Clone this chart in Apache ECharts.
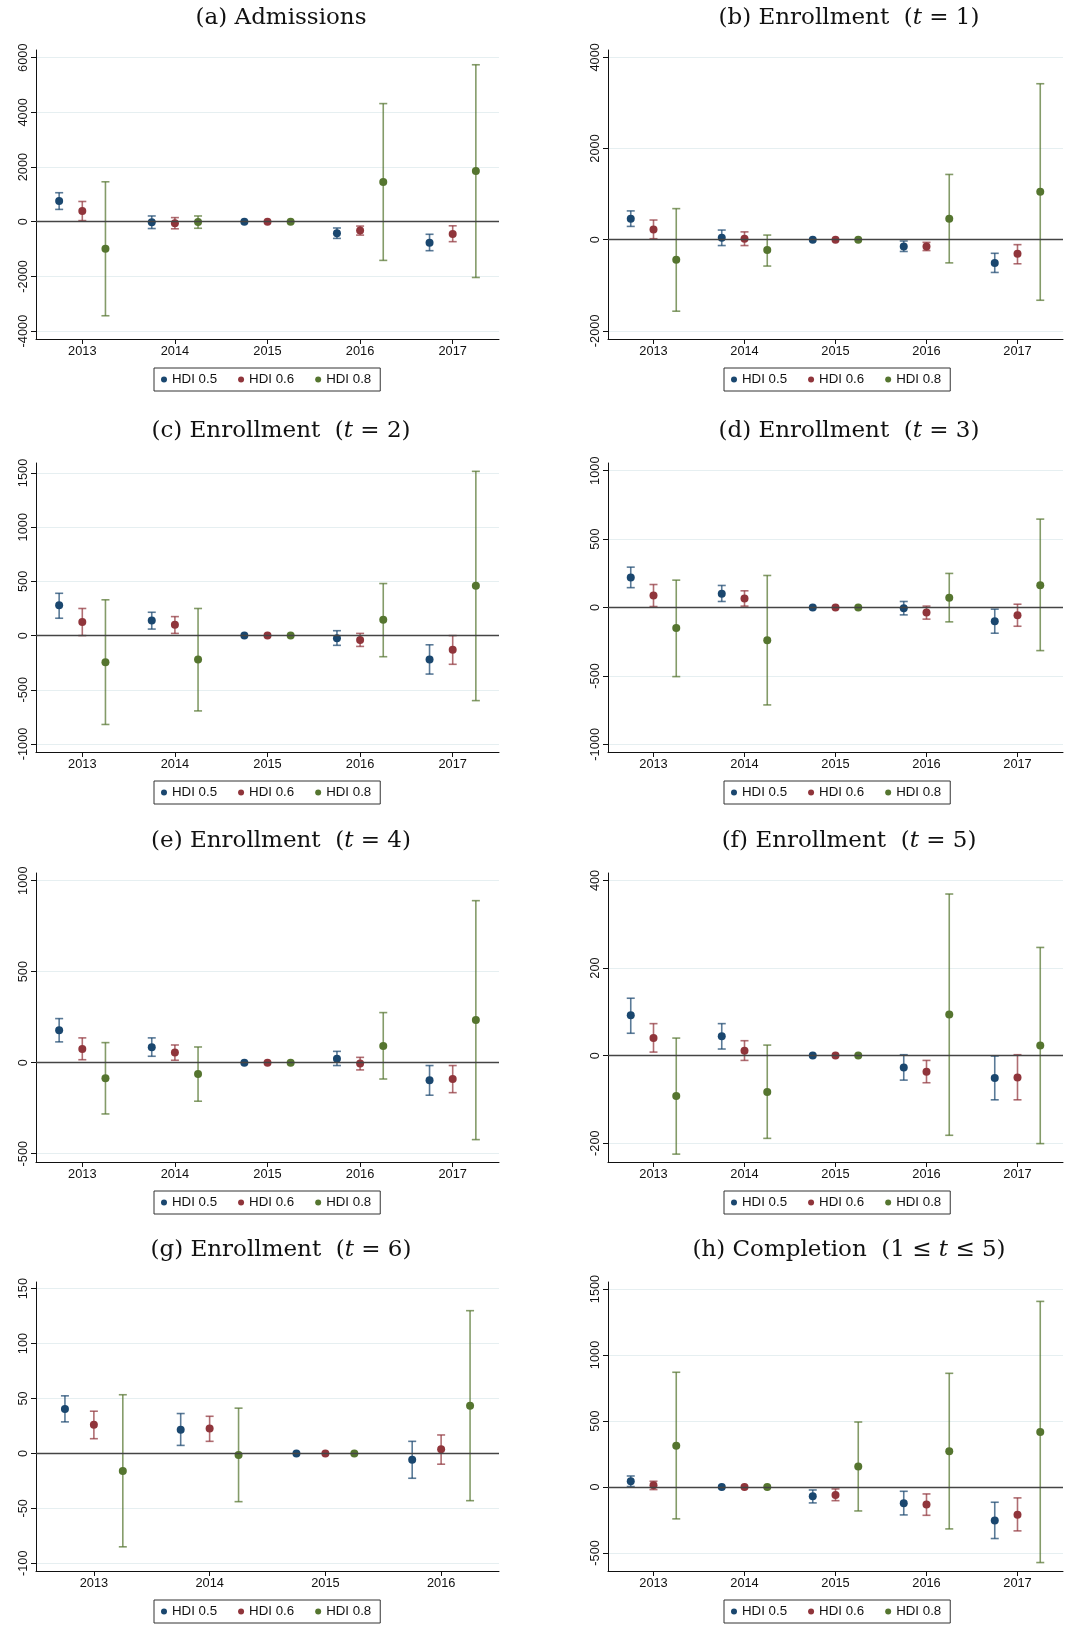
<!DOCTYPE html>
<html>
<head>
<meta charset="utf-8">
<script src="https://cdn.jsdelivr.net/npm/echarts@6/dist/echarts.min.js"></script>
<style>
html, body { margin: 0; padding: 0; background: #fff; }
#main { width: 1073px; height: 1626px; }
</style>
</head>
<body>
<div id="main"></div>
<script>
// years on the x axis
var years = [2013, 2014, 2015, 2016, 2017];
var yearsG = [2013, 2014, 2015, 2016];
var groups = ['HDI 0.5', 'HDI 0.6', 'HDI 0.8'];

// [estimate, ci low, ci high] per year; null CI = reference year
var admB = [[760, 450, 1060], [-20, -250, 210], [0, null, null], [-420, -610, -230], [-770, -1060, -460]];
var admR = [[390, 40, 740], [-60, -260, 150], [0, null, null], [-320, -490, -160], [-450, -730, -150]];
var admG = [[-990, -3440, 1460], [-10, -240, 210], [0, null, null], [1450, -1415, 4320], [1850, -2040, 5740]];

var en1B = [[460, 290, 630], [40, -130, 210], [0, null, null], [-150, -260, -30], [-510, -720, -300]];
var en1R = [[220, 20, 430], [20, -130, 170], [0, null, null], [-150, -240, -60], [-310, -530, -110]];
var en1G = [[-440, -1570, 680], [-230, -580, 100], [0, null, null], [460, -510, 1430], [1050, -1330, 3420]];

var en2B = [[280, 160, 390], [140, 60, 215], [0, null, null], [-25, -90, 45], [-220, -355, -85]];
var en2R = [[125, 0, 250], [100, 20, 175], [0, null, null], [-40, -100, 20], [-130, -265, 0]];
var en2G = [[-245, -820, 330], [-220, -695, 250], [0, null, null], [145, -195, 480], [460, -600, 1515]];

var en3B = [[220, 145, 295], [100, 44, 161], [0, null, null], [-5, -54, 44], [-100, -188, -12]];
var en3R = [[88, 7, 168], [66, 10, 122], [0, null, null], [-37, -85, 10], [-56, -137, 24]];
var en3G = [[-150, -505, 200], [-240, -712, 234], [0, null, null], [71, -105, 249], [163, -315, 646]];

var en4B = [[178, 114, 242], [84, 35, 136], [0, null, null], [22, -16, 62], [-97, -179, -16]];
var en4R = [[75, 16, 136], [55, 13, 97], [0, null, null], [-5, -40, 29], [-90, -165, -16]];
var en4G = [[-86, -282, 110], [-62, -212, 86], [0, null, null], [92, -90, 275], [234, -423, 890]];

var en5B = [[92, 51, 131], [44, 15, 73], [0, null, null], [-27, -56, 2], [-51, -101, -1]];
var en5R = [[40, 8, 73], [11, -11, 34], [0, null, null], [-37, -62, -11], [-50, -101, 2]];
var en5G = [[-92, -225, 40], [-83, -189, 24], [0, null, null], [94, -182, 369], [23, -201, 247]];

var en6B = [[40.5, 28.7, 52.4], [21.6, 7.3, 36.3], [0, null, null], [-5.8, -22.6, 11]];
var en6R = [[26, 13.4, 38.4], [22.6, 11, 33.8], [0, null, null], [3.7, -9.8, 16.8]];
var en6G = [[-16, -85, 53.4], [-1.5, -43.9, 41.2], [0, null, null], [43.3, -43, 129.9]];

var comB = [[43, 3, 83], [0, null, null], [-71, -121, -23], [-124, -212, -33], [-255, -391, -116]];
var comR = [[13, -20, 43], [0, null, null], [-61, -104, -15], [-134, -215, -53], [-210, -333, -83]];
var comG = [[313, -242, 869], [0, null, null], [154, -182, 492], [270, -318, 861], [417, -573, 1406]];

// y tick labels
var ticksA = [-4000, -2000, 0, 2000, 4000, 6000];
var ticksB = [-2000, 0, 2000, 4000];
var ticksC = [-1000, -500, 0, 500, 1000, 1500];
var ticksD = [-1000, -500, 0, 500, 1000];
var ticksE = [-500, 0, 500, 1000];
var ticksF = [-200, 0, 200, 400];
var ticksG = [-100, -50, 0, 50, 100, 150];
var ticksH = [-500, 0, 500, 1000, 1500];

var colors = ['#1a476f', '#90353b', '#55752f'];
var offsets = [-0.25, 0, 0.25];

var panels = [
    {title: '(a) Admissions', rows: [admB, admR, admG], x: years, ticks: ticksA, yMin: -4290, yMax: 6280},
    {title: '(b) Enrollment  ({i|t} = 1)', rows: [en1B, en1R, en1G], x: years, ticks: ticksB, yMin: -2180, yMax: 4160},
    {title: '(c) Enrollment  ({i|t} = 2)', rows: [en2B, en2R, en2G], x: years, ticks: ticksC, yMin: -1074, yMax: 1592},
    {title: '(d) Enrollment  ({i|t} = 3)', rows: [en3B, en3R, en3G], x: years, ticks: ticksD, yMin: -1056, yMax: 1056},
    {title: '(e) Enrollment  ({i|t} = 4)', rows: [en4B, en4R, en4G], x: years, ticks: ticksE, yMin: -546, yMax: 1042},
    {title: '(f) Enrollment  ({i|t} = 5)', rows: [en5B, en5R, en5G], x: years, ticks: ticksF, yMin: -243, yMax: 417},
    {title: '(g) Enrollment  ({i|t} = 6)', rows: [en6B, en6R, en6G], x: yearsG, ticks: ticksG, yMin: -107, yMax: 156},
    {title: '(h) Completion  (1 \u2264 {i|t} \u2264 5)', rows: [comB, comR, comG], x: years, ticks: ticksH, yMin: -637, yMax: 1553}
];

var cols = [
    {left: 36, width: 463, titleX: 281, legendLeft: 154},
    {left: 608, width: 455, titleX: 849, legendLeft: 724}
];
var rowTops = [50, 463, 873, 1282];
var plotH = 289;

function errBar(color) {
    return function (params, api) {
        var x = api.value(0);
        var lo = api.coord([x, api.value(1)]);
        var hi = api.coord([x, api.value(2)]);
        var w = 4;
        var style = {stroke: color, lineWidth: 1.6, opacity: 0.72};
        return {
            type: 'group',
            children: [
                {type: 'line', shape: {x1: lo[0], y1: lo[1], x2: hi[0], y2: hi[1]}, style: style},
                {type: 'line', shape: {x1: lo[0] - w, y1: lo[1], x2: lo[0] + w, y2: lo[1]}, style: style},
                {type: 'line', shape: {x1: hi[0] - w, y1: hi[1], x2: hi[0] + w, y2: hi[1]}, style: style}
            ]
        };
    };
}

var option = {
    backgroundColor: '#fff',
    animation: false,
    title: [], grid: [], xAxis: [], yAxis: [], legend: [], series: []
};

panels.forEach(function (p, k) {
    var c = cols[k % 2];
    var top = rowTops[Math.floor(k / 2)];
    var first = p.x[0], last = p.x[p.x.length - 1];

    option.title.push({
        text: p.title,
        left: c.titleX,
        top: top - 43,
        textAlign: 'center',
        padding: 0,
        textStyle: {
            fontFamily: 'DejaVu Serif', fontSize: 23, fontWeight: 'normal', color: '#111',
            rich: {i: {fontFamily: 'DejaVu Serif', fontSize: 23, fontStyle: 'italic', color: '#111'}}
        }
    });
    option.grid.push({left: c.left, top: top, width: c.width, height: plotH});
    option.xAxis.push({
        type: 'value', gridIndex: k, min: first - 0.5, max: last + 0.5,
        axisLine: {show: true, onZero: false, lineStyle: {color: '#111', width: 1}},
        axisTick: {show: true, length: 5, customValues: p.x, lineStyle: {color: '#111'}},
        axisLabel: {customValues: p.x, fontFamily: 'Liberation Sans', fontSize: 12.8, color: '#111', margin: 6,
            formatter: function (v) { return String(v); }},
        splitLine: {show: false}
    });
    option.yAxis.push({
        type: 'value', gridIndex: k, min: p.yMin, max: p.yMax,
        axisLine: {show: true, onZero: false, lineStyle: {color: '#111', width: 1}},
        axisTick: {show: true, length: 5, customValues: p.ticks, lineStyle: {color: '#111'}},
        axisLabel: {customValues: p.ticks, rotate: 90, fontFamily: 'Liberation Sans', fontSize: 12.8, color: '#111', margin: 6,
            formatter: function (v) { return String(v); }},
        splitLine: {show: true, lineStyle: {color: '#e6eff1', width: 1}}
    });
    option.legend.push({
        data: groups,
        left: c.legendLeft, top: top + 318,
        orient: 'horizontal',
        icon: 'circle', itemWidth: 6, itemHeight: 6, itemGap: 21,
        padding: [5, 9, 5, 7],
        borderColor: '#333', borderWidth: 1,
        textStyle: {fontFamily: 'Liberation Sans', fontSize: 13.3, color: '#111'},
        selectedMode: false
    });

    p.rows.forEach(function (rows, g) {
        var pts = rows.map(function (r, i) { return [p.x[i] + offsets[g], r[0]]; });
        var bars = [];
        rows.forEach(function (r, i) {
            if (r[1] != null) bars.push([p.x[i] + offsets[g], r[1], r[2]]);
        });
        var bar = {
            type: 'custom', name: groups[g], xAxisIndex: k, yAxisIndex: k,
            renderItem: errBar(colors[g]), encode: {x: 0, y: [1, 2]},
            itemStyle: {color: colors[g]},
            data: bars, z: 2, silent: true
        };
        if (g === 0) {
            bar.markLine = {
                silent: true, symbol: 'none', label: {show: false},
                lineStyle: {color: '#444', width: 1.4, type: 'solid'},
                data: [{yAxis: 0}]
            };
        }
        option.series.push(bar);
        option.series.push({
            type: 'scatter', name: groups[g], xAxisIndex: k, yAxisIndex: k,
            data: pts, symbolSize: 8, z: 4,
            itemStyle: {color: colors[g], opacity: 1}
        });
    });
});

var chart = echarts.init(document.getElementById('main'));
chart.setOption(option);
</script>
</body>
</html>
